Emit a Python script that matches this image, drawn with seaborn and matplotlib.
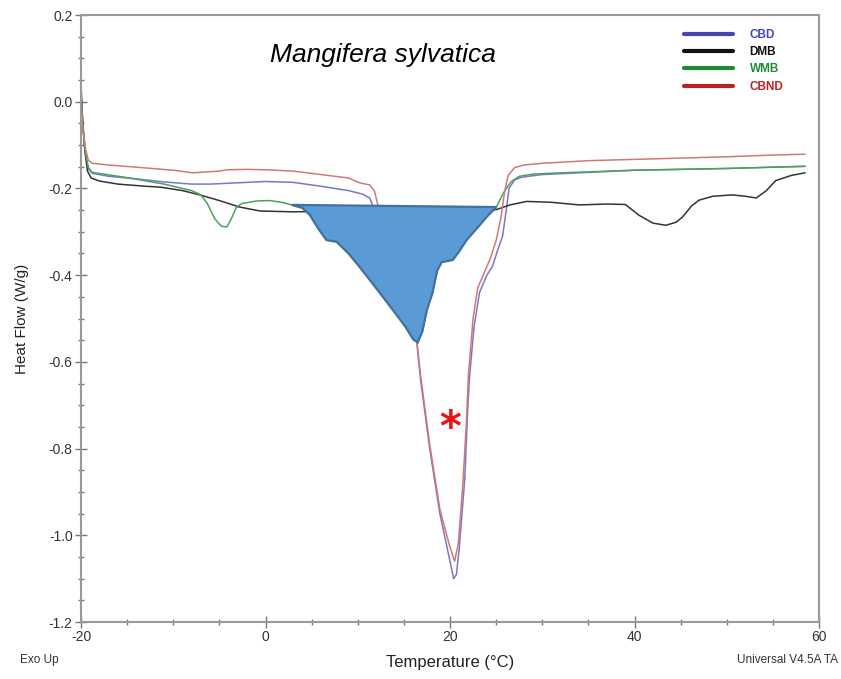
# DSC thermogram, Mangifera sylvatica - heat flow vs temperature
import numpy as np
import pandas as pd
import seaborn as sns
import matplotlib.pyplot as plt
from matplotlib.lines import Line2D

sns.set_theme(style="white")
plt.rcParams['font.family'] = ['Liberation Sans', 'DejaVu Sans']
plt.rcParams['axes.unicode_minus'] = False

# values
cbd_temp = [-20, -19.8, -19.5, -19.2, -18.8, -17, -14, -11, -8, -6, -3, 0, 3, 6, 9, 10.5, 11.3,
            11.8, 12.5, 13.5, 14.5, 15.5, 16.4, 16.8, 17.8, 18.9, 19.9, 20.4, 20.7, 21.0, 21.6,
            21.9, 22.1, 22.6, 23.2, 24.0, 24.6, 25.2, 25.7, 26.1, 26.4, 27.0, 27.8, 30, 33, 36,
            40, 45, 50, 55, 58.5]
cbd_flow = [0.02, -0.06, -0.12, -0.155, -0.165, -0.172, -0.178, -0.185, -0.19, -0.19, -0.187,
            -0.184, -0.186, -0.195, -0.205, -0.213, -0.222, -0.25, -0.29, -0.35, -0.42, -0.49,
            -0.556, -0.64, -0.80, -0.95, -1.05, -1.10, -1.09, -1.03, -0.87, -0.72, -0.64, -0.52,
            -0.44, -0.40, -0.38, -0.34, -0.31, -0.25, -0.20, -0.18, -0.174, -0.168, -0.165,
            -0.162, -0.158, -0.156, -0.154, -0.151, -0.149]

dmb_temp = [-20, -19.85, -19.6, -19.3, -18.9, -18, -16, -13, -11.4, -9, -7.1, -5, -2.8, -0.6,
            3, 6, 10, 15, 20, 23, 25, 26.5, 28.3, 31, 34, 37, 39, 40.5, 42, 43.4, 44.5, 45.2,
            46.2, 47, 48.5, 50.6, 52, 53.2, 54.3, 55.3, 57, 58.5]
dmb_flow = [0.04, -0.03, -0.11, -0.16, -0.176, -0.183, -0.19, -0.195, -0.197, -0.205, -0.215,
            -0.228, -0.243, -0.252, -0.254, -0.253, -0.252, -0.252, -0.252, -0.251, -0.249,
            -0.238, -0.23, -0.232, -0.238, -0.236, -0.237, -0.262, -0.28, -0.285, -0.278,
            -0.266, -0.24, -0.227, -0.218, -0.215, -0.218, -0.222, -0.205, -0.182, -0.17, -0.164]

wmb_temp = [-20, -19.8, -19.5, -19.2, -18.8, -15, -11, -8, -7, -6.3, -5.5, -4.8, -4.2, -3.7,
            -3.2, -2.6, -1, 0.5, 2, 2.84, 4.0, 4.8, 5.8, 6.6, 7.7, 9.0, 10.2, 12.0, 13.8, 15.2,
            16.0, 16.5, 17.0, 17.5, 18.1, 18.6, 19.1, 20.3, 21.0, 21.8, 23.0, 24.0, 25.03, 25.8,
            26.6, 27.5, 29, 32, 36, 40, 45, 50, 55, 58.5]
wmb_flow = [0.02, -0.06, -0.12, -0.152, -0.163, -0.175, -0.19, -0.205, -0.215, -0.235, -0.27,
            -0.287, -0.289, -0.27, -0.245, -0.235, -0.229, -0.228, -0.233, -0.238, -0.245,
            -0.261, -0.295, -0.319, -0.323, -0.35, -0.381, -0.43, -0.48, -0.52, -0.548, -0.555,
            -0.53, -0.48, -0.441, -0.39, -0.37, -0.365, -0.345, -0.319, -0.29, -0.265, -0.243,
            -0.21, -0.185, -0.172, -0.167, -0.164, -0.161, -0.158, -0.156, -0.154, -0.151, -0.149]

cbnd_temp = [-20, -19.8, -19.5, -19.2, -18.8, -17, -14, -10, -7.9, -5, -4.2, -2, 0, 3, 6, 9,
             10.2, 11.3, 11.8, 12.2, 13.0, 14.0, 15.0, 16.0, 16.4, 16.8, 17.8, 18.9, 19.9, 20.5,
             20.9, 21.4, 21.8, 22.0, 22.5, 23.0, 23.8, 24.4, 25.0, 25.5, 25.9, 26.3, 27.0, 28,
             30, 35, 40, 45, 50, 55, 58.5]
cbnd_flow = [0.0, -0.06, -0.11, -0.135, -0.142, -0.146, -0.151, -0.158, -0.164, -0.16, -0.157,
             -0.156, -0.157, -0.16, -0.168, -0.176, -0.187, -0.192, -0.205, -0.24, -0.29, -0.35,
             -0.42, -0.50, -0.55, -0.63, -0.79, -0.94, -1.02, -1.06, -1.02, -0.88, -0.73, -0.63,
             -0.50, -0.43, -0.39, -0.36, -0.32, -0.27, -0.21, -0.17, -0.152, -0.146, -0.142,
             -0.136, -0.133, -0.13, -0.127, -0.123, -0.121]

samples = ["CBD", "DMB", "WMB", "CBND"]
curve_colors = ["#7878c8", "#333333", "#4fa05a", "#d07878"]
legend_colors = ["#4545b5", "#111111", "#1e8a35", "#b82222"]
yticks = [-1.2, -1.0, -0.8, -0.6, -0.4, -0.2, 0.0, 0.2]
ytick_labels = ["-1.2", "-1.0", "-0.8", "-0.6", "-0.4", "-0.2", "0.0", "0.2"]

frames = []
for name, t, f in zip(samples, [cbd_temp, dmb_temp, wmb_temp, cbnd_temp],
                      [cbd_flow, dmb_flow, wmb_flow, cbnd_flow]):
    frames.append(pd.DataFrame({"Temperature": t, "Heat Flow": f, "Sample": name}))
df = pd.concat(frames, ignore_index=True)

fig = plt.figure(figsize=(8.41, 6.79), dpi=100)
ax = fig.add_axes([81 / 841, 57 / 679, 738 / 841, 607 / 679])

sns.lineplot(data=df, x="Temperature", y="Heat Flow", hue="Sample", hue_order=samples,
             palette=curve_colors, sort=False, estimator=None, legend=False, lw=1.1, ax=ax)

# shaded WMB melting area, closed by a straight baseline
wt = np.array(wmb_temp)
wf = np.array(wmb_flow)
sel = (wt >= 2.84) & (wt <= 25.03)
ax.fill(wt[sel], wf[sel], facecolor="#5b9bd5", edgecolor="#41719c", lw=1.6, zorder=5)

ax.set_xlim(-20, 60)
ax.set_ylim(-1.2, 0.2)
ax.set_xticks([-20, 0, 20, 40, 60])
ax.set_xticks(np.arange(-20, 61, 5), minor=True)
ax.set_yticks(yticks)
ax.set_yticks(np.arange(-1.2, 0.21, 0.05), minor=True)
ax.set_yticklabels(ytick_labels)
ax.tick_params(which="major", direction="inout", length=8, width=1, color="#777777",
               labelsize=10, labelcolor="#333333", left=True, bottom=True, pad=2)
ax.tick_params(which="minor", direction="inout", length=5, width=1, color="#777777",
               left=True, bottom=True)
for s in ax.spines.values():
    s.set_color("#999999")
    s.set_linewidth(1.5)

ax.set_xlabel("Temperature (°C)", fontsize=12, color="#222222", labelpad=8)
ax.set_ylabel("Heat Flow (W/g)", fontsize=11, color="#222222", labelpad=14)

ax.text(0.409, 0.934, "Mangifera sylvatica", transform=ax.transAxes, ha="center", va="center",
        fontsize=19, style="italic", color="black")
ax.text(20, -0.755, "*", ha="center", va="center", fontsize=30, fontweight="bold",
        color="#ee1111", family="DejaVu Sans")

fig.text(20 / 841, 1 - 660 / 679, "Exo Up", fontsize=8.5, color="#333333", va="center")
fig.text(838 / 841, 1 - 660 / 679, "Universal V4.5A TA", fontsize=8.5, color="#333333",
         va="center", ha="right")

handles = [Line2D([], [], color=c, lw=3) for c in legend_colors]
leg = ax.legend(handles, samples, loc="upper left", bbox_to_anchor=(0.81, 0.985),
                frameon=False, fontsize=8.5, handlelength=4.2, handletextpad=1.4,
                labelspacing=0.45, borderaxespad=0)
for txt, c in zip(leg.get_texts(), legend_colors):
    txt.set_color(c)
    txt.set_fontweight("bold")

fig.savefig("out.png", dpi=100)
